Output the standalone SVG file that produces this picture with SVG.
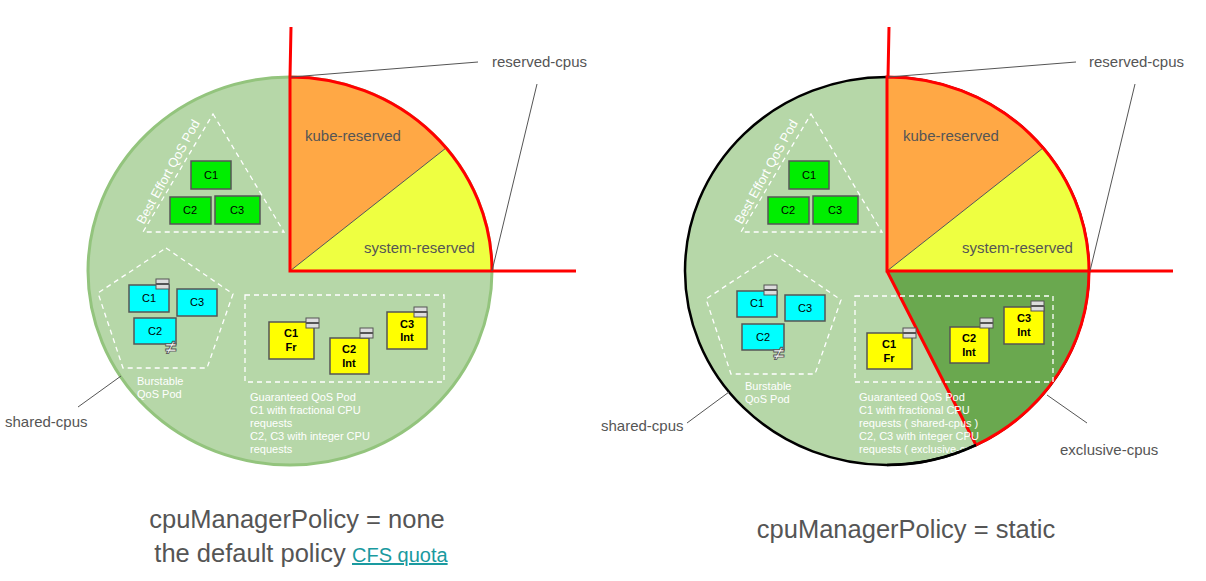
<svg xmlns="http://www.w3.org/2000/svg" width="1206" height="581" viewBox="0 0 1206 581">
<defs>
<style>
text{font-family:"Liberation Sans",Arial,sans-serif}
.lbl{fill:#555;font-size:15px}
.w{fill:#fff;font-size:11px}
.be{fill:#fff;font-size:13px;text-anchor:middle}
.ne{font-size:20px;font-weight:bold;fill:#fff;stroke:#555;stroke-width:0.9;text-anchor:middle}
.dash{fill:none;stroke:#fff;stroke-width:1.3;stroke-dasharray:5,4}
.lead{stroke:#555;stroke-width:1;fill:none}
.red{stroke:#f00;stroke-width:3;fill:none}
.g{fill:#00ee00;stroke:#555;stroke-width:1.5}
.c{fill:#00ffff;stroke:#555;stroke-width:1.5}
.y{fill:#ffff00;stroke:#555;stroke-width:1.5}
.bar{fill:#ddd;stroke:#555;stroke-width:1}
.t{font-size:11px;fill:#000;text-anchor:middle}
.tb{font-size:11px;fill:#000;text-anchor:middle;font-weight:bold}
.title{fill:#555;font-size:25.5px;text-anchor:middle}
</style>
<g id="icon"><rect class="bar" x="0" y="0" width="13" height="4.5"/><rect class="bar" x="0" y="5.5" width="13" height="4.5"/></g>
</defs>
<g id="left-node">
<ellipse cx="290" cy="271" rx="202" ry="194" fill="#b6d7a8" stroke="#93c47d" stroke-width="3"/>
<path d="M290,271 L290,77 A202,194 0 0 1 446,148 Z" fill="#ffa845"/>
<path d="M290,271 L446,148 A202,194 0 0 1 492,271 Z" fill="#eeff41"/>
<line x1="290" y1="271" x2="446" y2="148" stroke="#555" stroke-width="1"/>
<path class="red" d="M291,27 L290,77 M290,271 L290,77 A202,194 0 0 1 492,271 Z M492,271 L576,271"/>
<text class="lbl" x="305" y="141">kube-reserved</text>
<text class="lbl" x="364" y="253">system-reserved</text>
<polygon class="dash" points="213,114 284,232 143,232"/>
<text class="be" transform="translate(172,174) rotate(-61)">Best Effort QoS Pod</text>
<rect class="g" x="191" y="161" width="40" height="28"/><text class="t" x="211" y="179">C1</text>
<rect class="g" x="170" y="197" width="41" height="27"/><text class="t" x="190" y="214">C2</text>
<rect class="g" x="215" y="196" width="45" height="28"/><text class="t" x="237" y="214">C3</text>
<polygon class="dash" points="166,248 233,294 207,368 123,368 98,293"/>
<rect class="c" x="129" y="285" width="40" height="27"/><text class="t" x="149" y="302">C1</text>
<use href="#icon" x="156" y="279"/>
<rect class="c" x="177" y="289" width="40" height="27"/><text class="t" x="197" y="306">C3</text>
<rect class="c" x="134" y="318" width="42" height="26"/><text class="t" x="155" y="335">C2</text>
<text class="ne" x="171" y="354">≠</text>
<text class="w"><tspan x="137" y="385">Burstable</tspan><tspan x="137" y="398">QoS Pod</tspan></text>
<rect class="dash" x="245" y="295" width="199" height="87"/>
<rect class="y" x="269" y="322" width="45" height="37"/><text class="tb" x="291" y="337">C1</text><text class="tb" x="291" y="351">Fr</text>
<use href="#icon" x="306" y="318"/>
<rect class="y" x="330" y="338" width="39" height="36"/><text class="tb" x="349" y="353">C2</text><text class="tb" x="349" y="367">Int</text>
<use href="#icon" x="360" y="328"/>
<rect class="y" x="387" y="312" width="40" height="37"/><text class="tb" x="407" y="328">C3</text><text class="tb" x="407" y="341">Int</text>
<use href="#icon" x="414" y="307"/>
<text class="w"><tspan x="250" y="401">Guaranteed QoS Pod</tspan><tspan x="250" y="414">C1 with fractional CPU</tspan><tspan x="250" y="427">requests</tspan><tspan x="250" y="440">C2, C3 with integer CPU</tspan><tspan x="250" y="453">requests</tspan></text>
</g>
<g id="right-node">
<ellipse cx="887" cy="271" rx="202" ry="194" fill="#b6d7a8" stroke="#000" stroke-width="2.5"/>
<path d="M887,271 L887,77 A202,194 0 0 1 1043,148 Z" fill="#ffa845"/>
<path d="M887,271 L1043,148 A202,194 0 0 1 1089,271 Z" fill="#eeff41"/>
<path d="M887,271 L1089,271 A202,194 0 0 1 976,445 Z" fill="#6aa84f"/>
<line x1="887" y1="271" x2="1043" y2="148" stroke="#555" stroke-width="1"/>
<path class="red" d="M889,27 L888,77 M887,271 L887,77 A202,194 0 0 1 1089,271 Z M1089,271 A202,194 0 0 1 976,445 L887,271 M1089,271 L1173,271"/>
<text class="lbl" x="903" y="141">kube-reserved</text>
<text class="lbl" x="962" y="253">system-reserved</text>
<polygon class="dash" points="811,114 882,232 741,232"/>
<text class="be" transform="translate(770,174) rotate(-61)">Best Effort QoS Pod</text>
<rect class="g" x="789" y="161" width="40" height="28"/><text class="t" x="809" y="179">C1</text>
<rect class="g" x="768" y="197" width="41" height="27"/><text class="t" x="788" y="214">C2</text>
<rect class="g" x="813" y="196" width="45" height="28"/><text class="t" x="835" y="214">C3</text>
<polygon class="dash" points="774,254 841,300 815,374 731,374 706,299"/>
<rect class="c" x="737" y="291" width="40" height="26"/><text class="t" x="757" y="307">C1</text>
<use href="#icon" x="764" y="285"/>
<rect class="c" x="785" y="295" width="40" height="26"/><text class="t" x="805" y="312">C3</text>
<rect class="c" x="742" y="324" width="42" height="26"/><text class="t" x="763" y="341">C2</text>
<text class="ne" x="779" y="360">≠</text>
<text class="w"><tspan x="745" y="390">Burstable</tspan><tspan x="745" y="403">QoS Pod</tspan></text>
<rect class="dash" x="855" y="296" width="198" height="86"/>
<rect class="y" x="867" y="333" width="45" height="36"/><text class="tb" x="889" y="348">C1</text><text class="tb" x="889" y="362">Fr</text>
<use href="#icon" x="903" y="328"/>
<rect class="y" x="950" y="327" width="39" height="36"/><text class="tb" x="969" y="342">C2</text><text class="tb" x="969" y="356">Int</text>
<use href="#icon" x="980" y="318"/>
<rect class="y" x="1004" y="307" width="40" height="37"/><text class="tb" x="1024" y="322">C3</text><text class="tb" x="1024" y="336">Int</text>
<use href="#icon" x="1031" y="301"/>
<text class="w"><tspan x="859" y="401">Guaranteed QoS Pod</tspan><tspan x="859" y="414">C1 with fractional CPU</tspan><tspan x="859" y="427">requests ( shared-cpus )</tspan><tspan x="859" y="440">C2, C3 with integer CPU</tspan><tspan x="859" y="453">requests ( exclusive-cpus )</tspan></text>
<path d="M887,465 A202,194 0 0 0 976,445" fill="none" stroke="#000" stroke-width="2.5"/>
</g>
<g id="connectors">
<line class="lead" x1="291" y1="77" x2="478" y2="62"/>
<line class="lead" x1="492" y1="271" x2="537" y2="84"/>
<line class="lead" x1="78" y1="407" x2="121" y2="376"/>
<line class="lead" x1="888" y1="77" x2="1076" y2="62"/>
<line class="lead" x1="1090" y1="271" x2="1135" y2="84"/>
<line class="lead" x1="687" y1="423" x2="729" y2="392"/>
<line class="lead" x1="1047" y1="395" x2="1087" y2="423"/>
</g>
<g id="labels">
<text class="lbl" x="492" y="67">reserved-cpus</text>
<text class="lbl" x="5" y="427">shared-cpus</text>
<text class="lbl" x="1089" y="67">reserved-cpus</text>
<text class="lbl" x="601" y="431">shared-cpus</text>
<text class="lbl" x="1060" y="455" font-size="13">exclusive-cpus</text>
<text class="title" x="297" y="528">cpuManagerPolicy = none</text>
<text class="title" x="250" y="562">the default policy</text>
<text x="352" y="562" font-size="20" fill="#1a9aa0" text-decoration="underline">CFS quota</text>
<text class="title" x="906" y="538">cpuManagerPolicy = static</text>
</g>
</svg>
